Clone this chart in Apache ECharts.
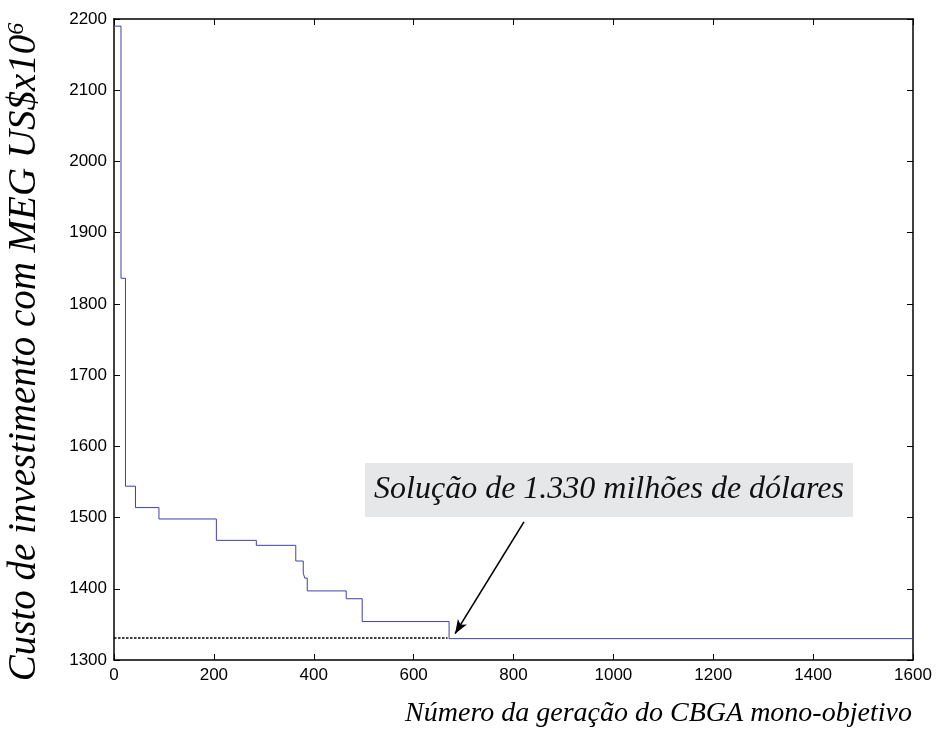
<!DOCTYPE html>
<html>
<head>
<meta charset="utf-8">
<script src="https://cdn.jsdelivr.net/npm/echarts@6/dist/echarts.min.js"></script>
<style>
html,body{margin:0;padding:0;background:#fff;}
#chart{width:945px;height:731px;}
</style>
</head>
<body>
<div id="chart"></div>
<script>
// ---- data ----
const generations = [0, 14, 23, 43, 90, 205, 285, 364, 379, 382, 387, 465, 497, 671, 1600];
const cost = [2190, 1836, 1544, 1514, 1498, 1468, 1461, 1439, 1422, 1415, 1397, 1386, 1354, 1330, 1330];
const refGens = [0, 668];
const refCost = [1331, 1331];
const arrowFrom = [821, 1494];
const arrowTo = [683, 1337];
const xMin = 0, xMax = 1600, xStep = 200;
const yMin = 1300, yMax = 2200, yStep = 100;
const xTitle = 'Número da geração do CBGA mono-objetivo';
const yTitle = 'Custo de investimento com MEG US$x10';
const yTitleSup = '6';
const annotation = 'Solução de 1.330 milhões de dólares';

const chart = echarts.init(document.getElementById('chart'), null, {renderer: 'canvas'});

const axisLine = {show: true, onZero: false, lineStyle: {color: '#000', width: 1.5}};
const tickIn = {show: true, inside: true, length: 6, lineStyle: {color: '#000', width: 1}};
const labelFont = {color: '#000', fontFamily: 'Liberation Sans, Arial, sans-serif', fontSize: 17, formatter: v => String(v)};
const serif = 'Liberation Serif, Times New Roman, serif';

const option = {
  animation: false,
  backgroundColor: '#fff',
  grid: {left: 114, right: 32, top: 19, bottom: 71, containLabel: false, outerBoundsMode: 'none'},
  xAxis: [
    {type: 'value', min: xMin, max: xMax, interval: xStep, position: 'bottom',
     axisLine: axisLine, axisTick: tickIn, splitLine: {show: false},
     axisLabel: Object.assign({margin: 7}, labelFont),
     name: xTitle, nameLocation: 'middle', nameGap: 40,
     nameTextStyle: {fontFamily: serif, fontStyle: 'italic', fontSize: 28, color: '#000', padding: [0, 0, 0, 290]}},
    {type: 'value', min: xMin, max: xMax, interval: xStep, position: 'top',
     axisLine: axisLine, axisTick: tickIn, axisLabel: {show: false}, splitLine: {show: false}}
  ],
  yAxis: [
    {type: 'value', min: yMin, max: yMax, interval: yStep, position: 'left',
     axisLine: axisLine, axisTick: tickIn, splitLine: {show: false},
     axisLabel: Object.assign({margin: 7}, labelFont),
     name: yTitle + '{sup|' + yTitleSup + '}', nameLocation: 'middle', nameGap: 70,
     nameTextStyle: {fontFamily: serif, fontStyle: 'italic', fontSize: 39, color: '#000',
       padding: [0, 25, 0, 0],
       rich: {sup: {fontFamily: serif, fontStyle: 'italic', fontSize: 24, color: '#000', verticalAlign: 'top', padding: [0, 0, 14, 0]}}}},
    {type: 'value', min: yMin, max: yMax, interval: yStep, position: 'right',
     axisLine: axisLine, axisTick: tickIn, axisLabel: {show: false}, splitLine: {show: false}}
  ],
  series: [
    {type: 'line', step: 'end', symbol: 'none', silent: true,
     lineStyle: {color: '#3f3fb5', width: 1},
     data: generations.map((g, i) => [g, cost[i]])},
    {type: 'line', symbol: 'none', silent: true,
     lineStyle: {color: '#000', width: 1.5, type: [2.5, 1.5]},
     data: refGens.map((g, i) => [g, refCost[i]]),
     markLine: {silent: true, symbol: ['none', 'arrow'], symbolSize: [8, 14],
       lineStyle: {color: '#000', width: 1.6, type: 'solid'}, label: {show: false},
       data: [[{coord: arrowFrom}, {coord: arrowTo}]]}}
  ],
  graphic: [
    {type: 'rect', left: 365, top: 463, shape: {width: 488, height: 54}, style: {fill: '#e6e7e8'}, z: 10},
    {type: 'text', x: 609, y: 490, z: 11,
     style: {text: annotation, fontFamily: serif, fontStyle: 'italic', fontSize: 32,
       fill: '#111', align: 'center', verticalAlign: 'middle'}}
  ]
};
chart.setOption(option);
</script>
</body>
</html>
